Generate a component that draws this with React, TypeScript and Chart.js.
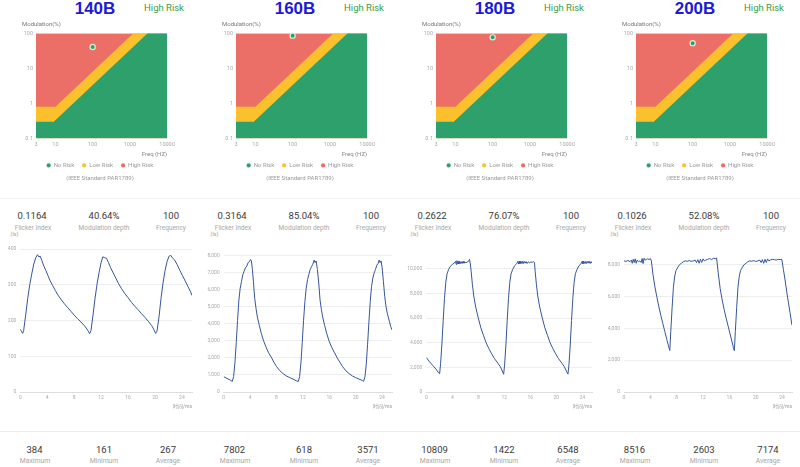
import React, { useEffect, useRef } from 'react';
import { Chart, registerables } from 'chart.js';

Chart.register(...registerables);
Chart.defaults.font.family = 'Roboto, "Noto Sans CJK SC", sans-serif';

// ---------- summary values ----------
const lampNames = ['140B', '160B', '180B', '200B'];
const riskLabels = ['High Risk', 'High Risk', 'High Risk', 'High Risk'];
const flickerIndex = ['0.1164', '0.3164', '0.2622', '0.1026'];
const modulationDepth = [40.64, 85.04, 76.07, 52.08];
const flickerFreq = [100, 100, 100, 100];
const maxLux = [384, 7802, 10809, 8516];
const minLux = [161, 618, 1422, 2603];
const avgLux = [267, 3571, 6548, 7174];

// ---------- IEEE PAR1789 risk regions ----------
const noRiskFreq = [3, 9, 3000, 10000];
const noRiskMod = [0.3, 0.3, 100, 100];
const lowRiskFreq = [3, 10, 1250, 10000];
const lowRiskMod = [0.8, 0.8, 100, 100];
const highRiskFreq = [3, 10000];
const highRiskMod = [100, 100];
const freqTicks = [3, 10, 100, 1000, 10000];
const modTicks = [0.1, 1, 10, 100];

// ---------- waveform axes ----------
const timeTicks = [0, 4, 8, 12, 16, 20, 24];
const luxTicks140 = [0, 100, 200, 300, 400];
const luxTicks160 = [0, 1000, 2000, 3000, 4000, 5000, 6000, 7000, 8000];
const luxTicks180 = [0, 2000, 4000, 6000, 8000, 10000];
const luxTicks200 = [0, 2000, 4000, 6000, 8000];
const luxTicks = [luxTicks140, luxTicks160, luxTicks180, luxTicks200];
const luxAxisMax = [400, 8400, 11600, 9000];
const luxAxisWidth = [20.3, 23.7, 26.3, 24];

// ---------- waveforms [time ms, lux] ----------
const wave140: [number, number][] = [[0,176],[0.15,170],[0.35,164],[0.5,172],[0.8,215],[1.1,262],[1.4,300],[1.7,330],[2.0,358],[2.3,376],[2.55,384],[2.75,378],[2.95,380],[3.2,368],[3.5,352],[3.8,340],[4.1,326],[4.4,312],[4.8,298],[5.2,284],[5.6,271],[6.0,260],[6.5,248],[7.0,237],[7.5,226],[8.0,215],[8.5,205],[9.0,196],[9.5,186],[9.9,176],[10.1,170],[10.3,163],[10.5,172],[10.8,215],[11.1,262],[11.4,302],[11.7,335],[12.0,362],[12.25,378],[12.5,376],[12.8,374],[13.1,362],[13.4,348],[13.8,333],[14.2,318],[14.6,303],[15.0,290],[15.5,276],[16.0,264],[16.5,251],[17.0,240],[17.5,230],[18.0,219],[18.5,209],[19.0,198],[19.5,186],[19.8,176],[20.1,164],[20.3,170],[20.6,210],[20.9,262],[21.2,305],[21.5,340],[21.8,365],[22.1,380],[22.35,382],[22.6,375],[22.9,370],[23.3,356],[23.7,340],[24.1,325],[24.5,310],[24.9,295],[25.3,280],[25.5,270]];

const wave160: [number, number][] = [[0,900],[0.5,800],[1.0,700],[1.3,620],[1.5,900],[1.7,1700],[1.9,2900],[2.1,4200],[2.3,5400],[2.5,6100],[2.7,6500],[2.9,6900],[3.1,7100],[3.3,7300],[3.5,7400],[3.7,7600],[3.9,7650],[4.05,7780],[4.2,7700],[4.35,7200],[4.5,6500],[4.7,5500],[4.9,4900],[5.1,4400],[5.4,3900],[5.7,3450],[6.0,3050],[6.4,2650],[6.8,2300],[7.2,2050],[7.6,1750],[8.0,1500],[8.5,1250],[9.0,1080],[9.5,940],[10.0,850],[10.5,760],[11.0,660],[11.3,618],[11.5,900],[11.7,1700],[11.9,2900],[12.1,4200],[12.3,5300],[12.5,6100],[12.7,6600],[12.9,6900],[13.1,7200],[13.3,7350],[13.5,7500],[13.7,7750],[13.85,7600],[14.0,7700],[14.2,7200],[14.4,6400],[14.6,5400],[14.8,4850],[15.0,4400],[15.3,3900],[15.6,3450],[16.0,2950],[16.4,2600],[16.8,2300],[17.2,2000],[17.6,1750],[18.0,1500],[18.5,1250],[19.0,1080],[19.5,940],[20.0,840],[20.5,760],[21.0,680],[21.2,625],[21.4,900],[21.6,1600],[21.8,2800],[22.0,4100],[22.2,5300],[22.4,6200],[22.6,6700],[22.8,7000],[23.0,7200],[23.2,7450],[23.4,7550],[23.55,7750],[23.7,7600],[23.85,7700],[24.0,7300],[24.2,6500],[24.4,5600],[24.6,5000],[24.8,4600],[25.1,4150],[25.3,3850],[25.5,3650]];

const wave180: [number, number][] = [[0,2800],[0.5,2450],[1.0,2150],[1.5,1850],[1.9,1550],[2.05,1480],[2.2,2300],[2.4,3900],[2.6,5800],[2.8,7600],[3.0,8900],[3.2,9600],[3.45,9950],[3.7,10200],[4.0,10350],[4.3,10450],[4.5,10600],[4.6,10350],[4.7,10650],[4.8,10400],[4.9,10600],[5.0,10380],[5.1,10620],[5.2,10400],[5.35,10580],[5.5,10420],[5.65,10600],[5.8,10450],[5.95,10550],[6.1,10480],[6.3,10550],[6.5,10600],[6.65,10750],[6.8,10300],[6.9,9800],[7.1,8700],[7.3,7800],[7.6,6900],[8.0,6000],[8.4,5200],[8.8,4600],[9.2,4000],[9.6,3550],[10.0,3150],[10.5,2700],[11.0,2350],[11.4,2050],[11.7,1700],[11.9,1440],[12.05,2200],[12.25,3800],[12.45,5800],[12.65,7600],[12.85,8900],[13.05,9600],[13.3,9950],[13.6,10250],[13.9,10400],[14.1,10600],[14.2,10380],[14.3,10620],[14.4,10400],[14.5,10600],[14.6,10420],[14.75,10620],[14.9,10400],[15.05,10600],[15.2,10450],[15.35,10580],[15.5,10420],[15.7,10560],[15.9,10480],[16.1,10550],[16.3,10520],[16.5,10560],[16.65,10500],[16.75,9800],[16.95,8700],[17.15,7800],[17.45,6900],[17.85,6000],[18.25,5200],[18.65,4600],[19.05,4000],[19.45,3550],[19.85,3150],[20.35,2700],[20.85,2350],[21.25,2050],[21.55,1700],[21.8,1450],[21.95,2200],[22.15,3800],[22.35,5800],[22.55,7600],[22.75,8900],[22.95,9600],[23.2,9950],[23.5,10250],[23.8,10400],[24.0,10600],[24.1,10400],[24.2,10620],[24.3,10420],[24.45,10600],[24.6,10400],[24.75,10600],[24.9,10450],[25.05,10620],[25.2,10420],[25.35,10580],[25.5,10450]];

const wave200: [number, number][] = [[0,8250],[0.3,8220],[0.6,8280],[0.9,8200],[1.1,8300],[1.25,8100],[1.4,8350],[1.55,8150],[1.7,8380],[1.85,8100],[2.0,8300],[2.2,8200],[2.4,8250],[2.6,8150],[2.75,8400],[2.9,8080],[3.05,8420],[3.2,8300],[3.4,8350],[3.6,8380],[3.8,8330],[4.0,8400],[4.15,8250],[4.4,7400],[4.7,6600],[5.0,5950],[5.3,5350],[5.6,4800],[5.9,4300],[6.2,3800],[6.5,3300],[6.75,2900],[6.95,2610],[7.1,3800],[7.3,5300],[7.5,6600],[7.7,7300],[7.9,7650],[8.1,7800],[8.4,8000],[8.7,8100],[9.0,8200],[9.3,8250],[9.6,8230],[9.9,8270],[10.2,8220],[10.5,8250],[10.8,8300],[11.0,8150],[11.2,8330],[11.4,8100],[11.6,8350],[11.8,8150],[12.0,8380],[12.2,8250],[12.4,8300],[12.7,8350],[13.0,8400],[13.3,8330],[13.6,8420],[13.9,8380],[14.05,8450],[14.3,7500],[14.6,6500],[14.9,5800],[15.2,5200],[15.5,4650],[15.8,4150],[16.1,3650],[16.4,3150],[16.6,2800],[16.75,2600],[16.9,3800],[17.1,5300],[17.3,6600],[17.5,7300],[17.7,7650],[17.9,7800],[18.2,8000],[18.5,8100],[18.8,8200],[19.1,8250],[19.4,8230],[19.7,8270],[20.0,8220],[20.3,8250],[20.6,8300],[20.8,8150],[21.0,8330],[21.2,8100],[21.4,8350],[21.6,8150],[21.8,8380],[22.0,8250],[22.2,8300],[22.5,8350],[22.8,8330],[23.1,8300],[23.4,8350],[23.7,8330],[23.95,8350],[24.2,7700],[24.45,7050],[24.7,6300],[24.95,5650],[25.2,5000],[25.5,4200]];

const waves = [wave140, wave160, wave180, wave200];

// ---------- colours ----------
const GREEN = '#2da06b';
const YELLOW = '#fbc12d';
const RED = '#eb6f67';
const LINE_BLUE = '#34569c';

const toXY = (xs: number[], ys: number[]) => xs.map((x, i) => ({ x, y: ys[i] }));

function Txt({ x, y, size, color, children, bold, family, align = 'center' }: any) {
  const w = 140;
  const left = align === 'center' ? x - w / 2 : align === 'right' ? x - w : x;
  return (
    <div
      style={{
        position: 'absolute',
        left,
        top: y - 0.487 * size,
        width: w,
        textAlign: align,
        fontSize: size,
        lineHeight: size + 'px',
        color,
        fontFamily: family || 'Roboto, sans-serif',
        fontWeight: bold ? 700 : 400,
        whiteSpace: 'nowrap',
      }}
    >
      {children}
    </div>
  );
}

function RiskChart({ left, top, mod, freq }: { left: number; top: number; mod: number; freq: number }) {
  const ref = useRef<HTMLCanvasElement>(null);
  useEffect(() => {
    const base = { borderWidth: 0, pointRadius: 0, fill: 'start' as const };
    const chart = new Chart(ref.current!, {
      type: 'line',
      data: {
        datasets: [
          { ...base, label: 'No Risk', data: toXY(noRiskFreq, noRiskMod), backgroundColor: GREEN, borderColor: GREEN, pointBackgroundColor: GREEN, order: 2 },
          { ...base, label: 'Low Risk', data: toXY(lowRiskFreq, lowRiskMod), backgroundColor: YELLOW, borderColor: YELLOW, pointBackgroundColor: YELLOW, order: 3 },
          { ...base, label: 'High Risk', data: toXY(highRiskFreq, highRiskMod), backgroundColor: RED, borderColor: RED, pointBackgroundColor: RED, order: 4 },
          {
            label: 'Measured',
            data: [{ x: freq, y: mod }],
            showLine: false,
            fill: false,
            pointRadius: 2.6,
            pointBackgroundColor: GREEN,
            pointBorderColor: '#d9efdd',
            pointBorderWidth: 1.2,
            backgroundColor: GREEN,
            borderColor: '#d9efdd',
            order: 1,
            clip: false as any,
          },
        ] as any,
      },
      options: {
        animation: false,
        responsive: false,
        events: [],
        layout: { padding: 0 },
        plugins: {
          tooltip: { enabled: false },
          title: {
            display: true,
            text: 'Modulation(%)',
            align: 'start',
            color: '#777',
            font: { size: 6, weight: 'normal' },
            padding: { top: 2, bottom: 5 },
          },
          subtitle: {
            display: true,
            position: 'bottom',
            text: '(IEEE Standard PAR1789)',
            color: '#999',
            font: { size: 6 },
            padding: { top: -3.6, bottom: 2 },
          },
          legend: {
            position: 'bottom',
            labels: {
              usePointStyle: true,
              pointStyle: 'circle',
              boxWidth: 4,
              boxHeight: 3,
              padding: 8,
              color: '#999',
              font: { size: 6 },
              filter: (item: any) => item.datasetIndex !== 3,
            },
          },
        },
        scales: {
          x: {
            type: 'logarithmic',
            min: 3,
            max: 10000,
            z: 1,
            afterBuildTicks: (s: any) => {
              s.ticks = freqTicks.map((v) => ({ value: v }));
            },
            ticks: {
              callback: (v: any) => String(v),
              color: '#aaa',
              font: { size: 5.5 },
              padding: 3.2,
              maxRotation: 0,
              autoSkip: false,
            },
            grid: {
              drawTicks: false,
              lineWidth: 0.8,
              color: (c: any) =>
                c.tick && (c.tick.value === 3 || c.tick.value === 10000) ? 'rgba(0,0,0,0)' : 'rgba(255,255,255,0.75)',
            },
            border: { display: false, dash: [2, 2] },
            title: {
              display: true,
              text: 'Freq (HZ)',
              align: 'end',
              color: '#888',
              font: { size: 6 },
              padding: { top: -0.4, bottom: -4 },
            },
          },
          y: {
            type: 'logarithmic',
            min: 0.1,
            max: 100,
            z: 1,
            afterBuildTicks: (s: any) => {
              s.ticks = modTicks.map((v) => ({ value: v }));
            },
            afterFit: (s: any) => {
              s.width = 14;
            },
            ticks: {
              callback: (v: any) => String(v),
              color: '#aaa',
              font: { size: 5.5 },
              padding: 3,
              autoSkip: false,
            },
            grid: {
              drawTicks: false,
              lineWidth: 0.8,
              color: (c: any) =>
                c.tick && (c.tick.value === 0.1 || c.tick.value === 100) ? 'rgba(0,0,0,0)' : 'rgba(255,255,255,0.75)',
            },
            border: { display: false, dash: [2, 2] },
          },
        },
      } as any,
    });
    return () => chart.destroy();
  }, [mod, freq]);
  return (
    <canvas
      ref={ref}
      width={156}
      height={165}
      style={{ position: 'absolute', left, top, width: 156, height: 165 }}
    />
  );
}

function WaveChart({ left, top, idx }: { left: number; top: number; idx: number }) {
  const ref = useRef<HTMLCanvasElement>(null);
  useEffect(() => {
    const pts = waves[idx].map(([t, v]) => ({ x: t, y: v }));
    const yTicks = luxTicks[idx];
    const chart = new Chart(ref.current!, {
      type: 'line',
      data: {
        datasets: [
          {
            label: lampNames[idx],
            data: pts,
            borderColor: LINE_BLUE,
            backgroundColor: LINE_BLUE,
            borderWidth: 1,
            pointRadius: 0,
            fill: false,
            tension: 0,
          },
        ],
      },
      options: {
        animation: false,
        responsive: false,
        events: [],
        layout: { padding: { top: 9, right: 1, left: 0, bottom: 0 } },
        plugins: { legend: { display: false }, tooltip: { enabled: false }, title: { display: false } },
        scales: {
          x: {
            type: 'linear',
            min: 0,
            max: 25.5,
            afterBuildTicks: (s: any) => {
              s.ticks = timeTicks.map((v) => ({ value: v }));
            },
            ticks: { color: '#aaa', font: { size: 5 }, padding: 3, maxRotation: 0, autoSkip: false },
            grid: { display: false, drawTicks: false },
            border: { display: true, color: '#dddddd', width: 1 },
            title: {
              display: true,
              text: '时间/ms',
              align: 'end',
              color: '#999',
              font: { size: 5 },
              padding: { top: 0, bottom: 2 },
            },
          },
          y: {
            type: 'linear',
            min: 0,
            max: luxAxisMax[idx],
            afterBuildTicks: (s: any) => {
              s.ticks = yTicks.map((v) => ({ value: v }));
            },
            afterFit: (s: any) => {
              s.width = luxAxisWidth[idx];
            },
            ticks: {
              color: '#aaa',
              font: { size: 5 },
              padding: 4,
              autoSkip: false,
              callback: (v: any) => Number(v).toLocaleString('en-US'),
            },
            grid: { color: '#eeeeee', lineWidth: 1, drawTicks: false },
            border: { display: false },
          },
        },
      } as any,
    });
    return () => chart.destroy();
  }, [idx]);
  return (
    <canvas
      ref={ref}
      width={193}
      height={172}
      style={{ position: 'absolute', left, top, width: 193, height: 172 }}
    />
  );
}

export default function App() {
  return (
    <div
      style={{
        position: 'fixed',
        left: 0,
        top: 0,
        width: 800,
        height: 467,
        background: '#ffffff',
        overflow: 'hidden',
        fontFamily: 'Roboto, sans-serif',
      }}
    >
      <div style={{ position: 'absolute', left: 0, top: 198, width: 800, height: 1, background: '#f1f1f1' }} />
      <div style={{ position: 'absolute', left: 0, top: 431, width: 800, height: 1, background: '#ececec' }} />
      {lampNames.map((name, i) => {
        const cx = i * 200;
        return (
          <React.Fragment key={name}>
            <Txt x={cx + 95} y={8.4} size={17} color="#1a1ad9" bold family='"Liberation Sans", Arial, sans-serif'>
              {name}
            </Txt>
            <Txt x={cx + 164} y={7.4} size={9.5} color="#3a9b46">
              {riskLabels[i]}
            </Txt>
            <RiskChart left={cx + 22} top={19} mod={modulationDepth[i]} freq={flickerFreq[i]} />

            <Txt x={cx + 32} y={215.7} size={9.5} color="#3a3a3a">{flickerIndex[i]}</Txt>
            <Txt x={cx + 104} y={215.7} size={9.5} color="#3a3a3a">{modulationDepth[i].toFixed(2) + '%'}</Txt>
            <Txt x={cx + 171} y={215.7} size={9.5} color="#3a3a3a">{String(flickerFreq[i])}</Txt>
            <Txt x={cx + 33} y={228.3} size={6.5} color="#a8a8a8">Flicker Index</Txt>
            <Txt x={cx + 104} y={228.3} size={6.5} color="#a8a8a8">Modulation depth</Txt>
            <Txt x={cx + 171} y={228.3} size={6.5} color="#a8a8a8">Frequency</Txt>

            <Txt x={cx + 10.5} y={234.5} size={5.5} color="#999" align="left">(lx)</Txt>
            <WaveChart left={cx} top={240} idx={i} />

            <Txt x={cx + 34.5} y={450} size={9.5} color="#3a3a3a">{String(maxLux[i])}</Txt>
            <Txt x={cx + 104} y={450} size={9.5} color="#3a3a3a">{String(minLux[i])}</Txt>
            <Txt x={cx + 168} y={450} size={9.5} color="#3a3a3a">{String(avgLux[i])}</Txt>
            <Txt x={cx + 35} y={461} size={6.8} color="#a8a8a8">Maximum</Txt>
            <Txt x={cx + 104} y={461} size={6.8} color="#a8a8a8">Minimum</Txt>
            <Txt x={cx + 168} y={461} size={6.8} color="#a8a8a8">Average</Txt>
          </React.Fragment>
        );
      })}
    </div>
  );
}
